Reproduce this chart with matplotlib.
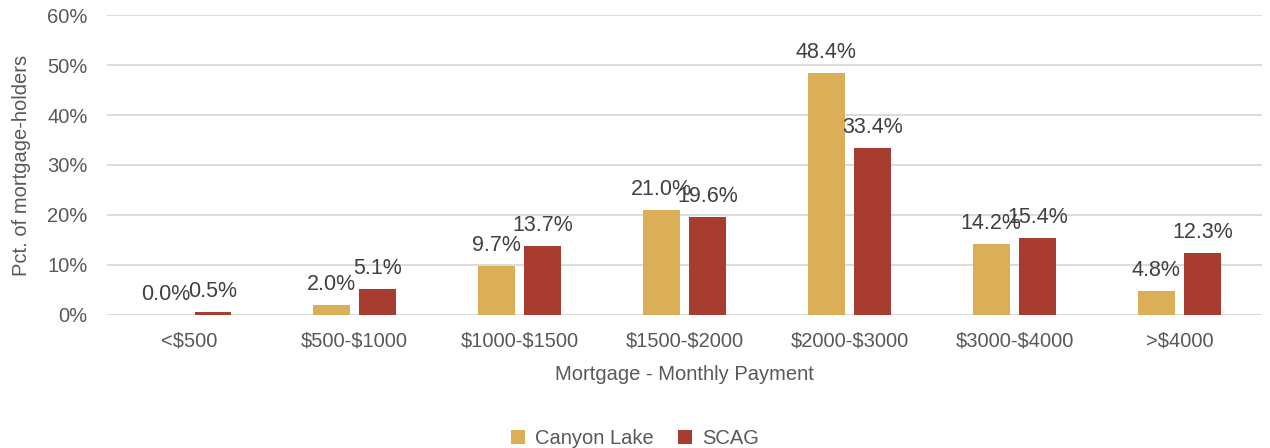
import numpy as np
import matplotlib
matplotlib.use("Agg")
import matplotlib.pyplot as plt
from matplotlib.ticker import PercentFormatter

categories = ["<$500", "$500-$1000", "$1000-$1500", "$1500-$2000",
              "$2000-$3000", "$3000-$4000", ">$4000"]
canyon_lake = [0.0, 2.0, 9.7, 21.0, 48.4, 14.2, 4.8]
scag = [0.5, 5.1, 13.7, 19.6, 33.4, 15.4, 12.3]

GOLD = "#dbae58"
RED = "#a93c31"
TEXT = "#595959"
LABEL = "#404040"

plt.rcParams["font.family"] = ["Liberation Sans", "DejaVu Sans"]
plt.rcParams["text.parse_math"] = False

fig = plt.figure(figsize=(12.7, 4.48), dpi=100)
ax = fig.add_axes([0.0843, 0.2969, 0.9094, 0.6696])

x = np.arange(len(categories))
w = 0.224
off = 0.142
b1 = ax.bar(x - off, canyon_lake, w, color=GOLD, label="Canyon Lake", zorder=2)
b2 = ax.bar(x + off, scag, w, color=RED, label="SCAG", zorder=2)

# value labels sit just above each bar (they overlap in places, as in the source)
for bars, vals in ((b1, canyon_lake), (b2, scag)):
    for rect, v in zip(bars, vals):
        ax.text(rect.get_x() + rect.get_width() / 2, v + 2.0, f"{v:.1f}%",
                ha="center", va="bottom", fontsize=15.5, color=LABEL)

ax.set_xlim(-0.5, len(categories) - 0.5)
ax.set_ylim(0, 60)
ax.set_yticks(range(0, 61, 10))
ax.yaxis.set_major_formatter(PercentFormatter(decimals=0))
ax.set_xticks(x)
ax.set_xticklabels(categories)
ax.tick_params(length=0, labelsize=14.5, labelcolor=TEXT)
ax.tick_params(axis="x", pad=12)
ax.tick_params(axis="y", pad=14)
ax.grid(axis="y", color="#d9d9d9", linewidth=1.3, zorder=0)
for s in ax.spines.values():
    s.set_visible(False)

ax.set_xlabel("Mortgage - Monthly Payment", fontsize=14.5, color=TEXT, labelpad=10)
ax.set_ylabel("Pct. of mortgage-holders", fontsize=14.5, color=TEXT, labelpad=12)

fig.legend(loc="lower center", bbox_to_anchor=(0.5, -0.04), ncol=2, frameon=False,
           fontsize=14.5, labelcolor=TEXT, handlelength=0.7, handleheight=0.7,
           handletextpad=0.5, columnspacing=1.2)

fig.savefig("out.png", dpi=100)
